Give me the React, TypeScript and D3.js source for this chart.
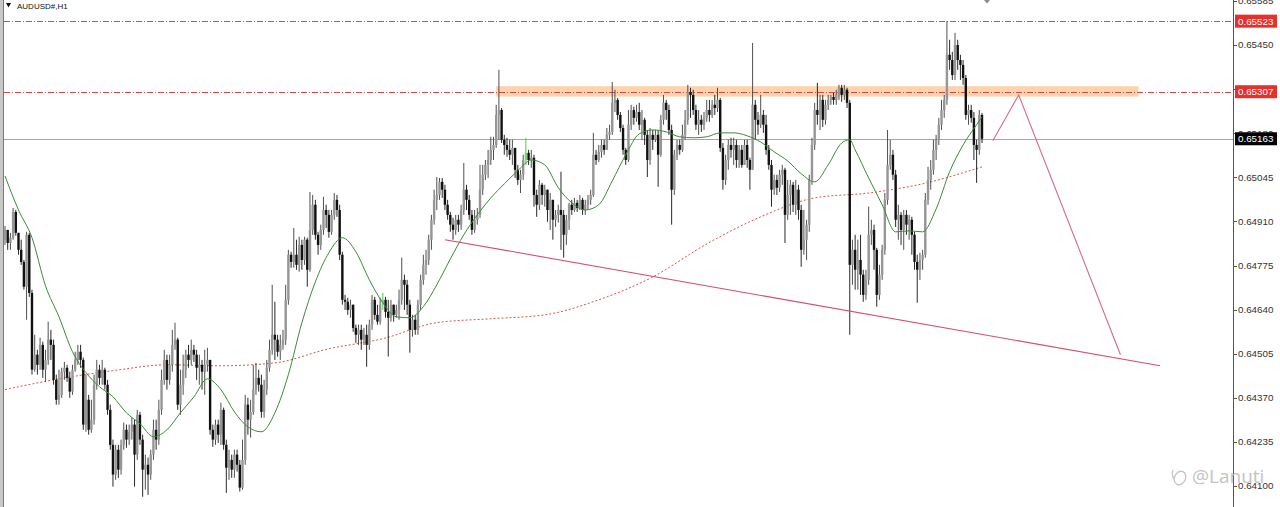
import React, { useEffect, useRef } from "react";
import * as d3 from "d3";

const WIDTH = 1280;
const HEIGHT = 507;

// all prices in points (1e-5), AUDUSD H1
const firstOpen = 64854;

const closes = [
  64884, 64844, 64860, 64939, 64875, 64823, 64786, 64710, 64869, 64691,
  64456, 64502, 64471, 64532, 64456, 64486, 64548, 64532, 64425, 64364,
  64379, 64450, 64462, 64431, 64389, 64456, 64486, 64511, 64486, 64288,
  64364, 64272, 64303, 64410, 64456, 64431, 64456, 64410, 64333, 64226,
  64135, 64211, 64150, 64226, 64272, 64242, 64266, 64288, 64196, 64318,
  64242, 64150, 64165, 64135, 64196, 64272, 64242, 64333, 64425, 64486,
  64425, 64471, 64532, 64548, 64349, 64410, 64456, 64502, 64486, 64517,
  64502, 64462, 64471, 64450, 64471, 64486, 64272, 64242, 64288, 64257,
  64333, 64226, 64156, 64180, 64150, 64196, 64165, 64095, 64180, 64349,
  64303, 64327, 64395, 64431, 64410, 64327, 64395, 64462, 64517, 64563,
  64548, 64511, 64532, 64548, 64670, 64808, 64786, 64808, 64777, 64838,
  64792, 64854, 64762, 64884, 64961, 64869, 64838, 64884, 64945, 64930,
  64878, 64930, 64976, 64945, 64808, 64670, 64664, 64639, 64655, 64584,
  64563, 64578, 64548, 64563, 64532, 64594, 64670, 64624, 64603, 64655,
  64670, 64633, 64615, 64655, 64624, 64639, 64670, 64731, 64716, 64655,
  64578, 64609, 64578, 64655, 64731, 64777, 64792, 64854, 64915, 64976,
  64991, 65031, 65007, 64961, 64930, 64900, 64884, 64915, 64900, 64945,
  65007, 64976, 64930, 64884, 64915, 64930, 65007, 65053, 65083, 65098,
  65129, 65144, 65236, 65251, 65160, 65144, 65129, 65114, 65135, 65068,
  65037, 65053, 65098, 65120, 65098, 65105, 64991, 64961, 65022, 64991,
  65007, 64945, 64976, 64915, 64930, 64945, 64930, 64869, 64915, 64961,
  64945, 64967, 64951, 64976, 64945, 64961, 64976, 64991, 65114, 65098,
  65123, 65144, 65129, 65175, 65184, 65273, 65282, 65236, 65196, 65129,
  65098, 65206, 65251, 65227, 65245, 65206, 65221, 65175, 65098, 65175,
  65160, 65175, 65114, 65221, 65273, 65251, 65190, 65007, 65114, 65144,
  65129, 65175, 65221, 65306, 65297, 65251, 65206, 65221, 65206, 65227,
  65251, 65236, 65267, 65257, 65282, 65135, 65037, 65098, 65144, 65129,
  65144, 65098, 65129, 65083, 65144, 65098, 65068, 65267, 65221, 65206,
  65236, 65206, 65129, 65083, 65007, 65037, 65013, 65053, 65068, 64930,
  64991, 65022, 64961, 65007, 64945, 64823, 64854, 64900, 65037, 65144,
  65251, 65236, 65282, 65221, 65267, 65282, 65291, 65282, 65297, 65319,
  65297, 65313, 65273, 64777, 64823, 64762, 64792, 64747, 64685, 64731,
  64869, 64884, 64823, 64685, 64747, 64823, 64976, 65083, 65114, 65053,
  64915, 64930, 64884, 64930, 64900, 64915, 64869, 64786, 64762, 64792,
  64808, 64976, 65037, 65068, 65129, 65160, 65206, 65251, 65282, 65420,
  65404, 65358, 65450, 65404, 65389, 65349, 65236, 65251, 65227, 65144,
  65129, 65236, 65163,
];

const highs = [
  64896, 64866, 64875, 64951, 64945, 64860, 64854, 64792, 64878, 64875,
  64701, 64563, 64517, 64554, 64542, 64517, 64603, 64578, 64548, 64441,
  64456, 64462, 64480, 64471, 64450, 64471, 64511, 64532, 64532, 64493,
  64441, 64379, 64364, 64441, 64486, 64471, 64486, 64462, 64425, 64349,
  64242, 64226, 64226, 64242, 64294, 64288, 64288, 64309, 64303, 64333,
  64327, 64257, 64196, 64187, 64211, 64303, 64303, 64364, 64456, 64517,
  64502, 64502, 64578, 64600, 64554, 64456, 64502, 64517, 64532, 64548,
  64532, 64517, 64502, 64486, 64517, 64523, 64486, 64288, 64303, 64303,
  64355, 64340, 64242, 64211, 64196, 64211, 64211, 64180, 64242, 64379,
  64370, 64364, 64471, 64477, 64456, 64441, 64425, 64486, 64548, 64716,
  64664, 64563, 64563, 64578, 64716, 64823, 64817, 64890, 64854, 64863,
  64854, 64863, 64860, 65000, 64991, 64976, 64878, 64900, 64985, 64961,
  64945, 64945, 64997, 64991, 64961, 64817, 64685, 64676, 64670, 64655,
  64594, 64594, 64594, 64584, 64594, 64609, 64685, 64679, 64655, 64676,
  64691, 64679, 64670, 64670, 64655, 64655, 64701, 64799, 64747, 64731,
  64670, 64624, 64624, 64670, 64747, 64808, 64823, 64869, 64930, 65007,
  65046, 65043, 65043, 65022, 64976, 64939, 64921, 64930, 64930, 64961,
  65089, 65022, 64991, 64945, 64945, 64951, 65083, 65083, 65098, 65129,
  65169, 65169, 65267, 65374, 65257, 65175, 65166, 65160, 65160, 65129,
  65083, 65068, 65114, 65166, 65129, 65129, 65114, 65007, 65037, 65028,
  65022, 65007, 64997, 64976, 64945, 64961, 65062, 64945, 64930, 64967,
  64976, 64982, 64976, 64991, 64982, 64976, 64991, 65007, 65181, 65129,
  65144, 65160, 65160, 65196, 65206, 65337, 65313, 65288, 65245, 65206,
  65135, 65251, 65267, 65261, 65267, 65273, 65251, 65227, 65190, 65196,
  65190, 65190, 65190, 65236, 65297, 65282, 65267, 65206, 65129, 65160,
  65160, 65206, 65251, 65328, 65319, 65313, 65267, 65251, 65236, 65245,
  65282, 65282, 65282, 65297, 65319, 65288, 65150, 65114, 65160, 65166,
  65166, 65160, 65144, 65144, 65160, 65160, 65105, 65456, 65282, 65245,
  65297, 65251, 65236, 65144, 65098, 65053, 65053, 65068, 65083, 65074,
  65037, 65037, 65031, 65037, 65022, 64961, 64945, 64915, 65053, 65166,
  65273, 65334, 65297, 65297, 65282, 65297, 65297, 65303, 65313, 65328,
  65328, 65328, 65319, 65282, 64854, 64869, 64854, 64869, 64762, 64762,
  64955, 64915, 64900, 64829, 64777, 64838, 64997, 65190, 65160, 65129,
  65068, 64961, 64939, 64945, 64945, 64930, 64924, 64878, 64808, 64814,
  64823, 64997, 65077, 65098, 65160, 65175, 65227, 65282, 65297, 65523,
  65466, 65429, 65487, 65466, 65420, 65404, 65358, 65267, 65267, 65245,
  65160, 65251, 65242,
];

const lows = [
  64838, 64823, 64823, 64854, 64866, 64808, 64777, 64701, 64609, 64679,
  64441, 64450, 64441, 64456, 64431, 64419, 64471, 64486, 64410, 64349,
  64349, 64370, 64425, 64419, 64370, 64379, 64450, 64471, 64462, 64272,
  64266, 64257, 64263, 64288, 64395, 64410, 64410, 64395, 64318, 64211,
  64098, 64119, 64125, 64135, 64211, 64217, 64226, 64242, 64098, 64180,
  64226, 64067, 64089, 64073, 64119, 64180, 64211, 64226, 64318, 64410,
  64395, 64410, 64450, 64517, 64333, 64318, 64379, 64431, 64462, 64471,
  64480, 64425, 64410, 64395, 64379, 64450, 64257, 64220, 64226, 64232,
  64226, 64211, 64079, 64119, 64125, 64125, 64144, 64083, 64089, 64165,
  64257, 64248, 64318, 64379, 64389, 64309, 64309, 64379, 64450, 64502,
  64486, 64496, 64486, 64517, 64532, 64655, 64768, 64768, 64762, 64756,
  64762, 64777, 64710, 64756, 64869, 64854, 64808, 64823, 64869, 64890,
  64860, 64869, 64915, 64924, 64792, 64655, 64639, 64624, 64615, 64572,
  64538, 64532, 64517, 64532, 64465, 64517, 64578, 64609, 64594, 64594,
  64639, 64615, 64496, 64603, 64603, 64615, 64609, 64655, 64639, 64624,
  64508, 64557, 64563, 64563, 64639, 64716, 64747, 64777, 64823, 64900,
  64945, 64976, 64982, 64945, 64915, 64878, 64854, 64869, 64878, 64884,
  64930, 64945, 64915, 64869, 64875, 64900, 64921, 64991, 65037, 65043,
  65083, 65098, 65135, 65160, 65150, 65114, 65108, 65098, 65083, 65043,
  65022, 64997, 65037, 65083, 65083, 65074, 64955, 64924, 64945, 64961,
  64955, 64909, 64884, 64854, 64893, 64906, 64823, 64799, 64838, 64884,
  64930, 64939, 64939, 64945, 64930, 64930, 64945, 64961, 64985, 65083,
  65092, 65105, 65114, 65129, 65160, 65175, 65245, 65221, 65184, 65114,
  65083, 65092, 65190, 65206, 65215, 65190, 65160, 65144, 65046, 65083,
  65129, 65153, 65016, 65108, 65206, 65221, 65175, 64900, 64991, 65098,
  65114, 65123, 65160, 65206, 65227, 65236, 65190, 65175, 65184, 65190,
  65215, 65215, 65227, 65236, 65245, 65123, 65007, 65022, 65068, 65105,
  65083, 65074, 65074, 65074, 65083, 65074, 65007, 65068, 65160, 65175,
  65196, 65181, 65114, 65068, 64955, 64991, 64991, 65000, 65022, 64844,
  64915, 64930, 64939, 64930, 64915, 64771, 64808, 64792, 64878, 65022,
  65129, 65206, 65190, 65199, 65206, 65251, 65267, 65267, 65267, 65282,
  65276, 65282, 65257, 64563, 64716, 64701, 64701, 64685, 64664, 64670,
  64716, 64838, 64762, 64649, 64670, 64731, 64808, 64961, 65068, 65037,
  64893, 64854, 64838, 64823, 64869, 64854, 64808, 64762, 64661, 64731,
  64762, 64799, 64961, 65007, 65053, 65098, 65144, 65190, 65227, 65267,
  65374, 65343, 65343, 65374, 65343, 65328, 65221, 65206, 65212, 65098,
  65028, 65114, 65150,
];

// bars painted green on the chart
const greenBars = [140, 193];

// fast moving average (green), read at bar indices
const fastIdx = [
  0, 5, 10, 15, 20, 25, 30, 35, 40, 45, 50, 55, 60, 65, 70, 75, 80, 85, 90, 95,
  100, 105, 110, 115, 120, 125, 130, 135, 140, 145, 150, 155, 160, 165, 170, 175,
  180, 185, 190, 195, 200, 205, 210, 215, 220, 225, 230, 235, 240, 245, 250, 255,
  260, 265, 270, 275, 280, 285, 290, 295, 300, 305, 310, 313, 315, 320, 325, 330,
  335, 340, 345, 350, 355, 360, 362,
];
const fastMA = [
  65049, 64945, 64860, 64713, 64618, 64511, 64447, 64404, 64373, 64324,
  64291, 64251, 64272, 64324, 64373, 64428, 64395, 64327, 64281, 64266,
  64324, 64441, 64600, 64725, 64814, 64860, 64817, 64731, 64661, 64618,
  64615, 64649, 64716, 64795, 64869, 64930, 64982, 65025, 65065, 65098,
  65083, 65013, 64967, 64945, 64961, 65034, 65114, 65178, 65190, 65184,
  65169, 65166, 65169, 65181, 65181, 65172, 65153, 65123, 65095, 65056,
  65031, 65083, 65150, 65160, 65129, 65043, 64961, 64878, 64881, 64878,
  64948, 65062, 65144, 65206, 65230,
];

// slow moving average (red dotted)
const slowIdx = [0, 20, 40, 60, 80, 100, 120, 140, 160, 180, 200, 220, 240, 260, 280, 300, 320, 340, 362];
const slowMA = [
  64395, 64428, 64453, 64471, 64468, 64477, 64520, 64551, 64600, 64612,
  64624, 64670, 64740, 64841, 64924, 64982, 64997, 65025, 65077,
];

const priceTicks = [65585, 65450, 65315, 65180, 65045, 64910, 64775, 64640, 64505, 64370, 64235, 64100];
const levels = [65523, 65307];
const lastPrice = 65163;

// resistance zone, bar index span and price span
const zoneIdx = [182, 420];
const zonePrice = [65292, 65324];

// drawn trend line and projection
const trendIdx = [163, 428];
const trendPrice = [64854, 64468];
const zigIdx = [366, 375.6, 413.3];
const zigPrice = [65157, 65297, 64502];

const App: React.FC = () => {
  const ref = useRef<SVGSVGElement | null>(null);

  useEffect(() => {
    if (!ref.current) return;
    const svg = d3.select(ref.current);
    svg.selectAll("*").remove();

    const axisX = 1233;
    const x = d3.scaleLinear().domain([0, closes.length - 1]).range([5, 982]);
    const y = d3.scaleLinear().domain([64100, 65450]).range([486, 45]);
    const fmt = (v: number) => (v / 1e5).toFixed(5);

    const candles = closes.map((c, i) => {
      const o = i === 0 ? firstOpen : closes[i - 1];
      return {
        i,
        o,
        c,
        h: Math.max(highs[i], o, c),
        l: Math.min(lows[i], o, c),
      };
    });

    svg.append("rect").attr("width", WIDTH).attr("height", HEIGHT).attr("fill", "#ffffff");

    // window frame on the left
    svg.append("rect").attr("x", 0).attr("y", 0).attr("width", 3).attr("height", HEIGHT).attr("fill", "#c8c8c8");
    svg.append("line").attr("x1", 3.5).attr("x2", 3.5).attr("y1", 0).attr("y2", HEIGHT).attr("stroke", "#7a7a7a");

    // resistance zone
    svg.append("rect")
      .attr("x", x(zoneIdx[0]))
      .attr("y", y(zonePrice[1]))
      .attr("width", x(zoneIdx[1]) - x(zoneIdx[0]))
      .attr("height", y(zonePrice[0]) - y(zonePrice[1]))
      .attr("fill", "#fdd3ae");

    // horizontal levels
    svg.selectAll(".level")
      .data(levels)
      .enter()
      .append("line")
      .attr("x1", 4)
      .attr("x2", axisX)
      .attr("y1", d => Math.round(y(d)) + 0.5)
      .attr("y2", d => Math.round(y(d)) + 0.5)
      .attr("stroke", "#d24b4b")
      .attr("stroke-width", 1)
      .attr("stroke-dasharray", "6,2,1,2");

    svg.append("line")
      .attr("x1", 4)
      .attr("x2", axisX)
      .attr("y1", Math.round(y(lastPrice)) + 0.5)
      .attr("y2", Math.round(y(lastPrice)) + 0.5)
      .attr("stroke", "#a6a6a6");

    // slow MA
    const slowLine = d3.line<number>()
      .x((_, k) => x(slowIdx[k]))
      .y(d => y(d))
      .curve(d3.curveMonotoneX);
    svg.append("path")
      .attr("d", slowLine(slowMA))
      .attr("fill", "none")
      .attr("stroke", "#d9534f")
      .attr("stroke-width", 1)
      .attr("stroke-dasharray", "2,2");

    // candles
    const g = svg.append("g");
    g.selectAll(".wick")
      .data(candles)
      .enter()
      .append("line")
      .attr("x1", d => x(d.i))
      .attr("x2", d => x(d.i))
      .attr("y1", d => y(d.h))
      .attr("y2", d => y(d.l))
      .attr("stroke", d => (greenBars.includes(d.i) ? "#3fbf3f" : d.c >= d.o ? "#3c3c3c" : "#111111"))
      .attr("stroke-width", 0.9);

    g.selectAll(".body")
      .data(candles)
      .enter()
      .append("rect")
      .attr("x", d => x(d.i) - 1.2)
      .attr("y", d => y(Math.max(d.o, d.c)))
      .attr("width", 2.4)
      .attr("height", d => Math.max(1, Math.abs(y(d.o) - y(d.c))))
      .attr("fill", d => (greenBars.includes(d.i) ? "#7ccf7c" : d.c >= d.o ? "#969696" : "#111111"));

    // fast MA
    const fastLine = d3.line<number>()
      .x((_, k) => x(fastIdx[k]))
      .y(d => y(d))
      .curve(d3.curveMonotoneX);
    svg.append("path")
      .attr("d", fastLine(fastMA))
      .attr("fill", "none")
      .attr("stroke", "#3c8a3c")
      .attr("stroke-width", 1);

    // hand drawn lines
    svg.append("line")
      .attr("x1", x(trendIdx[0]))
      .attr("y1", y(trendPrice[0]))
      .attr("x2", x(trendIdx[1]))
      .attr("y2", y(trendPrice[1]))
      .attr("stroke", "#d2506e")
      .attr("stroke-width", 1.1);

    const zig = d3.line<number>()
      .x((_, k) => x(zigIdx[k]))
      .y(d => y(d));
    svg.append("path")
      .attr("d", zig(zigPrice))
      .attr("fill", "none")
      .attr("stroke", "#d76a8a")
      .attr("stroke-width", 1.1);

    // chart shift marker
    svg.append("path")
      .attr("d", "M984,0 L990,0 L987,3.5 Z")
      .attr("fill", "#8a8a8a");

    // price axis
    svg.append("line")
      .attr("x1", axisX + 0.5)
      .attr("x2", axisX + 0.5)
      .attr("y1", 0)
      .attr("y2", HEIGHT)
      .attr("stroke", "#555555");

    const ticks = svg.append("g");
    ticks.selectAll("line")
      .data(priceTicks)
      .enter()
      .append("line")
      .attr("x1", axisX)
      .attr("x2", axisX + 4)
      .attr("y1", d => Math.round(y(d)) + 0.5)
      .attr("y2", d => Math.round(y(d)) + 0.5)
      .attr("stroke", "#555555");
    ticks.selectAll("text")
      .data(priceTicks)
      .enter()
      .append("text")
      .attr("x", axisX + 5)
      .attr("y", d => y(d))
      .attr("dy", "0.35em")
      .attr("font-family", "'Liberation Sans', Arial, sans-serif")
      .attr("font-size", 9.8)
      .attr("fill", "#333333")
      .text(d => fmt(d));

    const tags = [
      ...levels.map(v => ({ v, fill: "#e8302b" })),
      { v: lastPrice, fill: "#000000" },
    ];
    const tagG = svg.append("g");
    tagG.selectAll("rect")
      .data(tags)
      .enter()
      .append("rect")
      .attr("x", axisX + 2)
      .attr("y", d => y(d.v) - 6.5)
      .attr("width", 42)
      .attr("height", 13)
      .attr("fill", d => d.fill);
    tagG.selectAll("text")
      .data(tags)
      .enter()
      .append("text")
      .attr("x", axisX + 5)
      .attr("y", d => y(d.v))
      .attr("dy", "0.35em")
      .attr("font-family", "'Liberation Sans', Arial, sans-serif")
      .attr("font-size", 9.8)
      .attr("fill", "#ffffff")
      .text(d => fmt(d.v));

    // title
    svg.append("path").attr("d", "M6,3 L11,3 L8.5,7.5 Z").attr("fill", "#111111");
    svg.append("text")
      .attr("x", 17)
      .attr("y", 9)
      .attr("font-family", "'Liberation Sans', Arial, sans-serif")
      .attr("font-size", 8)
      .attr("fill", "#111111")
      .text("AUDUSD#,H1");

    // watermark
    const wm = svg.append("g").attr("fill", "none").attr("stroke", "#c4c4c4").attr("stroke-width", 1.3);
    wm.append("ellipse").attr("cx", 1180).attr("cy", 478).attr("rx", 5.5).attr("ry", 7).attr("transform", "rotate(25,1180,478)");
    wm.append("path").attr("d", "M1173,470 q-2,4 1,9");
    svg.append("text")
      .attr("x", 1192)
      .attr("y", 483)
      .attr("font-family", "'Open Sans', 'Noto Sans', sans-serif")
      .attr("font-size", 19)
      .attr("fill", "#c4c4c4")
      .text("@Lanuti");
  }, []);

  return (
    <svg
      ref={ref}
      width={WIDTH}
      height={HEIGHT}
      style={{ position: "absolute", left: 0, top: 0, display: "block" }}
    />
  );
};

export default App;
